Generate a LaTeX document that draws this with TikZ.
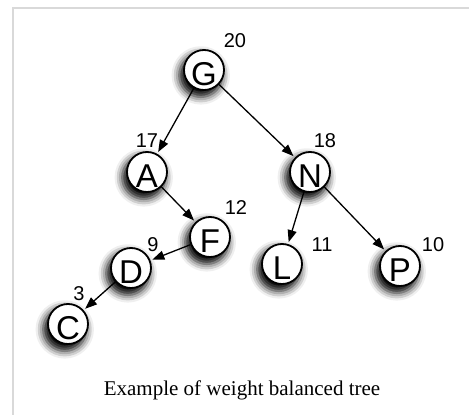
\documentclass[tikz,border=0pt]{standalone}
\usepackage{fontspec}
\setmainfont{Liberation Serif}
\newfontfamily\helv{Liberation Sans}
\usetikzlibrary{arrows.meta,shadows.blur}
\tikzset{
	vertex/.style={circle, draw, line width=1.8pt, fill=white, minimum size=40pt, inner sep=0pt,
		font=\helv\fontsize{33}{33}\selectfont, text height=30pt, text depth=0pt,
		blur shadow={shadow xshift=-3pt, shadow yshift=-5pt, shadow scale=1.08, shadow blur radius=7pt, shadow opacity=100}},
	weight/.style={font=\helv\fontsize{20}{20}\selectfont, inner sep=0pt},
	link/.style={line width=1.3pt, -{Triangle[length=12pt,width=9pt]}, shorten >=2pt}
}
\begin{document}
\begin{tikzpicture}[x=1pt, y=-1pt]
		\useasboundingbox (0,0) rectangle (469,415);
		\draw [gray!30, line width=1.5pt] (469,8) -- (13,8) -- (13,415);
		\node [vertex] (G) at (204,70) {G};
		\node [vertex] (A) at (147,172) {A};
		\node [vertex] (N) at (310,172) {N};
		\node [vertex] (F) at (210,237) {F};
		\node [vertex] (D) at (131,268) {D};
		\node [vertex] (C) at (68,324) {C};
		\node [vertex] (L) at (282,264) {L};
		\node [vertex] (P) at (400,266) {P};
		\node [weight] (wG) at (235,41) {20};
		\node [weight] (wA) at (147,141) {17};
		\node [weight] (wN) at (325,141) {18};
		\node [weight] (wF) at (236,208) {12};
		\node [weight] (wD) at (153,245) {9};
		\node [weight] (wC) at (79,294) {3};
		\node [weight] (wL) at (322,245) {11};
		\node [weight] (wP) at (433,245) {10};
		\draw [link] (G) -- (A);
		\draw [link] (G) -- (N);
		\draw [link] (A) -- (F);
		\draw [link] (F) -- (D);
		\draw [link] (D) -- (C);
		\draw [link] (N) -- (L);
		\draw [link] (N) -- (P);
		\node [font=\fontsize{21}{21}\selectfont] (caption) at (242,390) {Example of weight balanced tree};
\end{tikzpicture}
\end{document}
